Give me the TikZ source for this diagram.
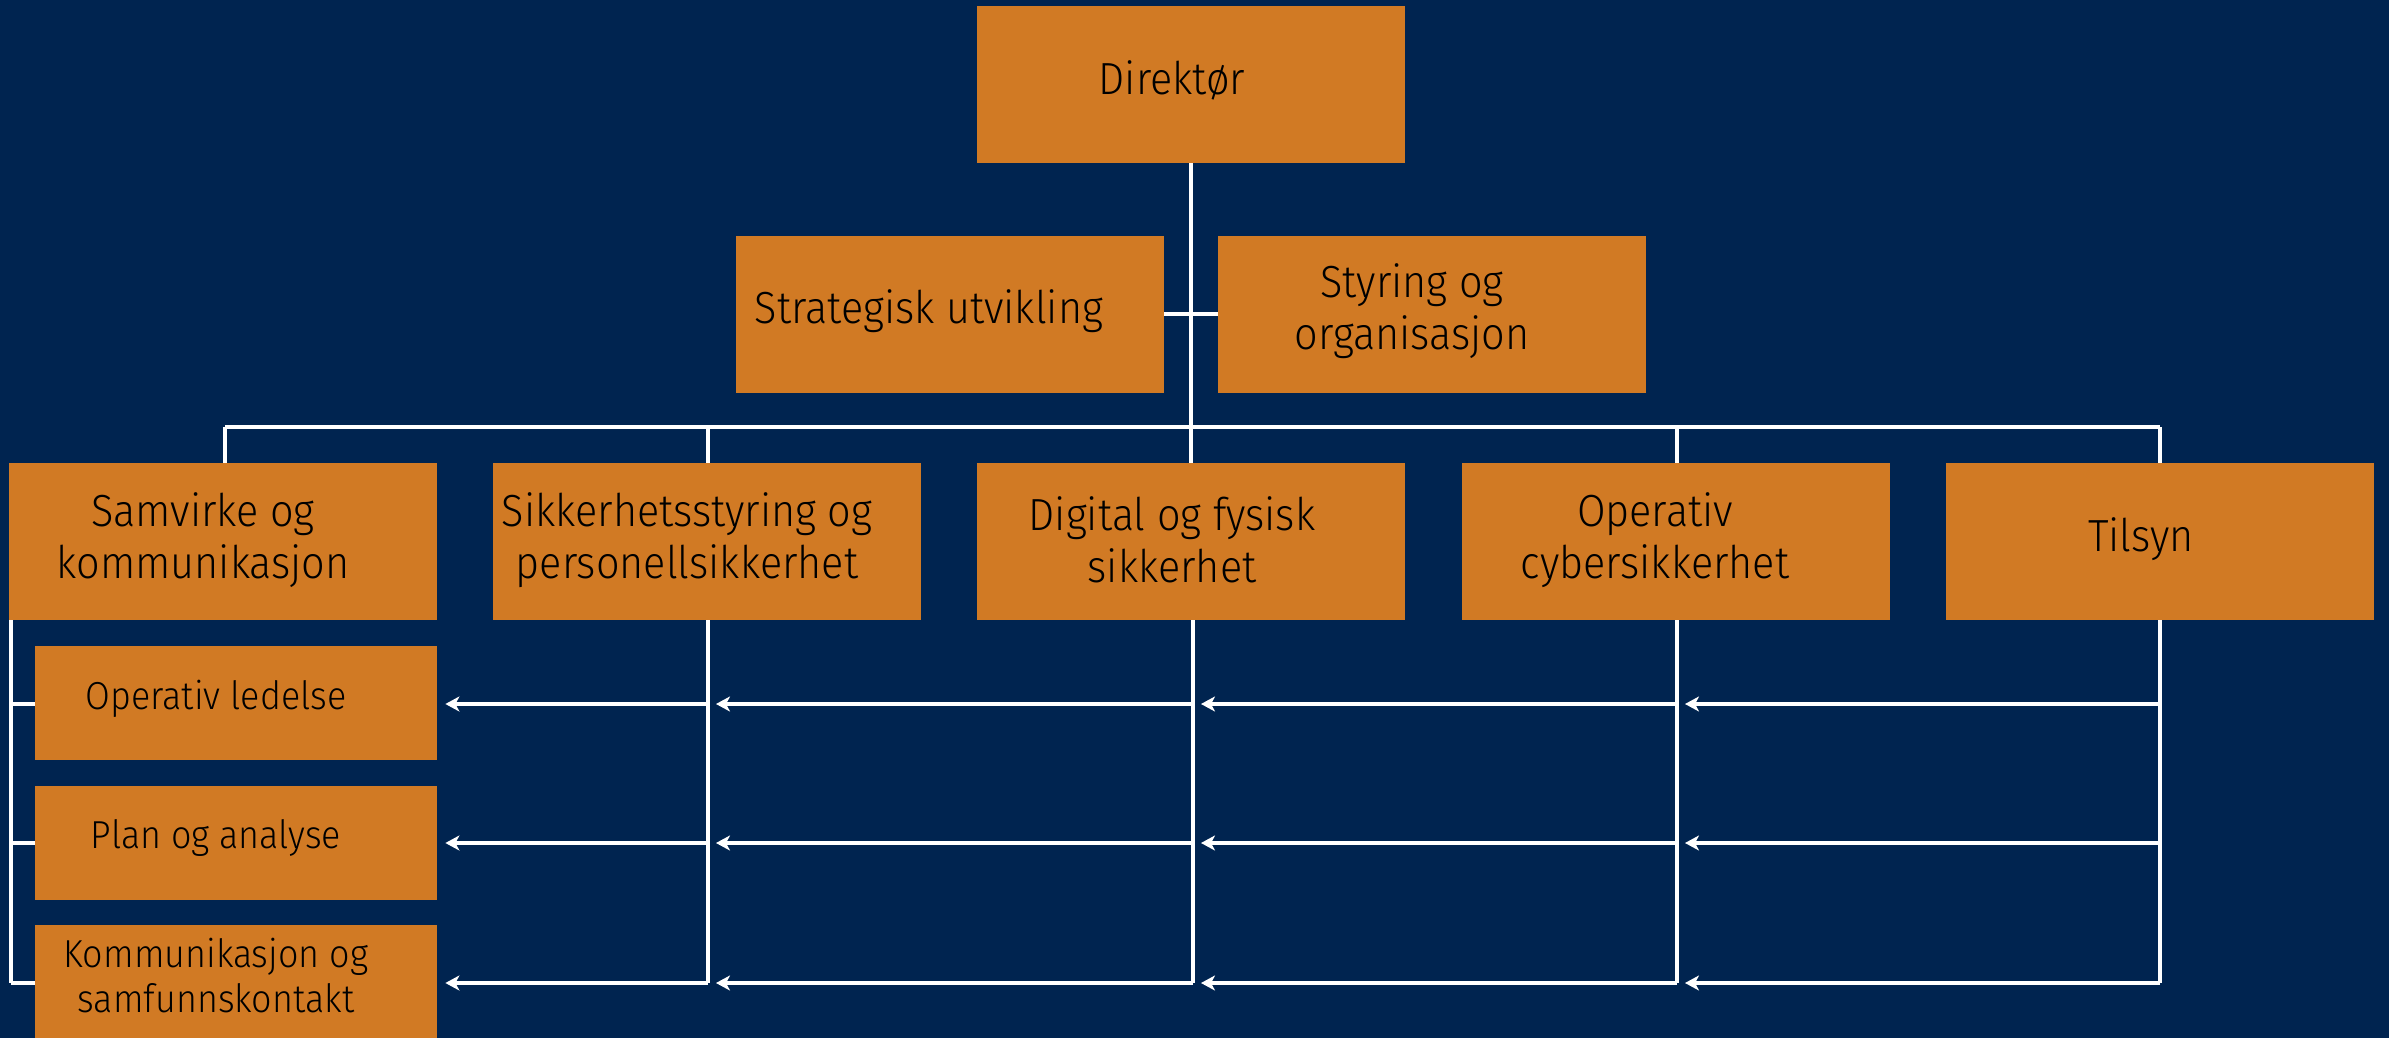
\documentclass[tikz,border=0pt]{standalone}
\usepackage{fontspec}
\setmainfont{Fira Sans}[UprightFont=* Light, FakeStretch=0.92]
\usetikzlibrary{arrows.meta}
\definecolor{navy}{HTML}{002450}
\definecolor{orng}{HTML}{D17A24}
\tikzset{
  box/.style={fill=orng, draw=none, inner sep=0pt},
  bigbox/.style={box, minimum width=214pt, minimum height=78.5pt},
  subbox/.style={box, minimum width=201pt, minimum height=57pt},
  bigtxt/.style={align=center, font=\fontsize{22.5}{26}\selectfont, text=black, inner sep=0pt},
  subtxt/.style={align=center, font=\fontsize{19.5}{22.5}\selectfont, text=black, inner sep=0pt},
  conn/.style={draw=white, line width=1.6pt},
  arr/.style={conn, -{Stealth[length=7pt,width=7.5pt,inset=2pt]}, shorten >=4pt},
}
\begin{document}
\begin{tikzpicture}[x=0.5pt,y=-0.5pt]
\fill[navy] (0,0) rectangle (2389,1038);
\useasboundingbox (0,0) rectangle (2389,1038);

% boxes
\node[bigbox] (dir) at (1191,84.5) {};
\node[bigbox] (str) at (950,314) {};
\node[bigbox] (sty) at (1432,314) {};
\node[bigbox] (sam) at (223,541.5) {};
\node[bigbox] (sik) at (707,541.5) {};
\node[bigbox] (dig) at (1191,541.5) {};
\node[bigbox] (opr) at (1676,541.5) {};
\node[bigbox] (til) at (2160,541.5) {};
\node[subbox] (ol) at (236,703) {};
\node[subbox] (pa) at (236,842.5) {};
\node[subbox, minimum height=56.5pt] (ks) at (236,981.5) {};

% coordinates
\coordinate (bus) at (1191,427);
\coordinate (busL) at (225,427);
\coordinate (busR) at (2160,427);
\foreach \n/\x in {sam/225, sik/708, dig/1191, opr/1677, til/2160}{
  \coordinate (\n-top) at (\x,427);
}
\foreach \n/\x in {sik/708, dig/1193, opr/1677, til/2160}{
  \coordinate (\n-r1) at (\x,704);
  \coordinate (\n-r2) at (\x,843);
  \coordinate (\n-r3) at (\x,983);
}
\coordinate (lb0) at (11,600);
\coordinate (lb1) at (11,704);
\coordinate (lb2) at (11,843);
\coordinate (lb3) at (11,983);

% connectors
\draw[conn] (dir.south) -- (bus);
\draw[conn] (str.east) -- (sty.west);
\draw[conn] (busL) -- (busR);
\foreach \n in {sam,sik,dig,opr,til}{
  \draw[conn] (\n-top) -- (\n-top |- \n.north);
}
\foreach \n in {sik,dig,opr,til}{
  \draw[conn] (\n-r1 |- \n.south) -- (\n-r3);
}
\draw[conn] (lb0) -- (lb3);
\draw[conn] (lb1) -- (lb1 -| ol.west);
\draw[conn] (lb2) -- (lb2 -| pa.west);
\draw[conn] (lb3) -- (lb3 -| ks.west);

\foreach \r/\b in {1/ol,2/pa,3/ks}{
  \draw[arr] (sik-r\r) -- (sik-r\r -| \b.east);
  \draw[arr] (dig-r\r) -- (sik-r\r);
  \draw[arr] (opr-r\r) -- (dig-r\r);
  \draw[arr] (til-r\r) -- (opr-r\r);
}

% redraw sam box on top of left line start
\node[bigbox] (samtop) at (223,541.5) {};

% texts
\node[bigtxt] (dirT) at (1172,80) {Direktør};
\node[bigtxt] (strT) at (929,311) {Strategisk utvikling};
\node[bigtxt] (styT) at (1412,311) {Styring og\\organisasjon};
\node[bigtxt] (samT) at (203,540) {Samvirke og\\kommunikasjon};
\node[bigtxt] (sikT) at (687,540) {Sikkerhetsstyring og\\personellsikkerhet};
\node[bigtxt] (digT) at (1172,540) {Digital og fysisk\\sikkerhet};
\node[bigtxt] (oprT) at (1655,540) {Operativ\\cybersikkerhet};
\node[bigtxt] (tilT) at (2141,539) {Tilsyn};
\node[subtxt] (olT) at (216,699) {Operativ ledelse};
\node[subtxt] (paT) at (216,838) {Plan og analyse};
\node[subtxt] (ksT) at (216,976) {Kommunikasjon og\\samfunnskontakt};
\end{tikzpicture}
\end{document}
